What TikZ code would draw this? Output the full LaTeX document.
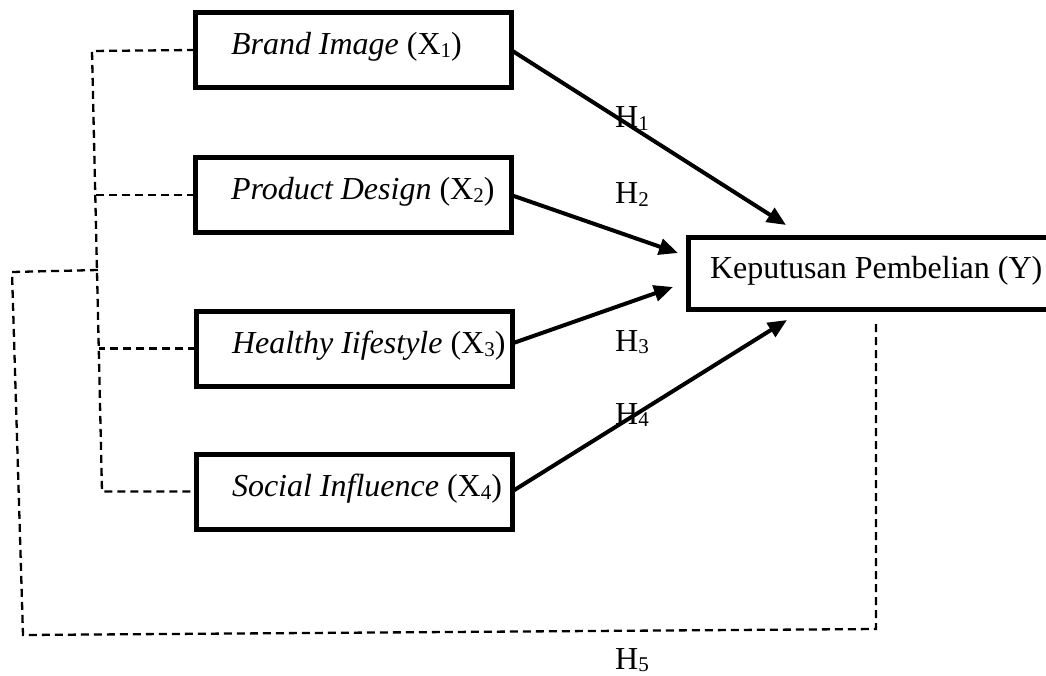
\documentclass[tikz,border=0pt]{standalone}
\usepackage{fontspec}
\setmainfont{Liberation Serif}
\usetikzlibrary{arrows.meta}
\newcommand{\mysub}[1]{\raisebox{-2.5pt}{\fontsize{21}{21}\selectfont #1}}
\begin{document}
\begin{tikzpicture}[x=1pt,y=-1pt,
  varbox/.style={draw, line width=5pt, rectangle, inner sep=0pt, outer sep=0pt,
    minimum width=316pt, minimum height=75pt, text height=20pt, text depth=10pt,
    font=\fontsize{32}{38}\selectfont},
  hlab/.style={anchor=base west, inner sep=0pt, font=\fontsize{32}{38}\selectfont},
  link/.style={line width=2.3pt, dash pattern=on 8pt off 5pt},
  arrowline/.style={line width=4pt, -{Triangle[length=19pt,width=16pt]}}
]
\useasboundingbox (0,0) rectangle (1046,676);
\clip (0,0) rectangle (1046,676);

% boxes
\node[varbox] (x1) at (353,50) {\makebox[316pt][l]{\hspace*{36pt}\textit{Brand Image} (X\mysub{1})}};
\node[varbox] (x2) at (353,195) {\makebox[316pt][l]{\hspace*{36pt}\textit{Product Design} (X\mysub{2})}};
\node[varbox] (x3) at (354,348.5) {\makebox[316pt][l]{\hspace*{36pt}\textit{Healthy Iifestyle} (X\mysub{3})}};
\node[varbox] (x4) at (354,491.5) {\makebox[316pt][l]{\hspace*{36pt}\textit{Social Influence} (X\mysub{4})}};
\node[varbox, minimum width=374pt, minimum height=72pt] (y) at (875.5,273.5)
  {\makebox[374pt][l]{\hspace*{21.5pt}Keputusan Pembelian (Y)}};

% arrow ends
\coordinate (t1) at (786,225);
\coordinate (t2) at (678,253);
\coordinate (t3) at (673,287);
\coordinate (t4) at (787,320);
\draw[arrowline] (x1.east) -- (t1);
\draw[arrowline] (x2.east) -- (t2);
\draw[arrowline] ([yshift=5pt]x3.east) -- (t3);
\draw[arrowline] (x4.east) -- (t4);

% dashed links
\coordinate (s1) at (92,51);
\coordinate (s2) at (95.3,195);
\coordinate (sj) at (98,270);
\coordinate (s3) at (98.8,348.5);
\coordinate (s4) at (102,491.5);
\coordinate (o1) at (12,272);
\coordinate (o2) at (23,635);
\coordinate (o3) at (876,629);
\coordinate (o4) at (876,322);
\draw[link] (x1.west) -- (s1) -- (s4) -- (x4.west);
\draw[link] (x2.west) -- (s2);
\draw[link] (x3.west) -- (s3);
\draw[link] (sj) -- (o1) -- (o2) -- (o3) -- (o4);

% hypothesis labels
\node[hlab] (h1) at (615,128) {H\mysub{1}};
\node[hlab] (h2) at (615,204) {H\mysub{2}};
\node[hlab] (h3) at (615,351) {H\mysub{3}};
\node[hlab] (h4) at (615,424) {H\mysub{4}};
\node[hlab] (h5) at (615,669) {H\mysub{5}};
\end{tikzpicture}
\end{document}
